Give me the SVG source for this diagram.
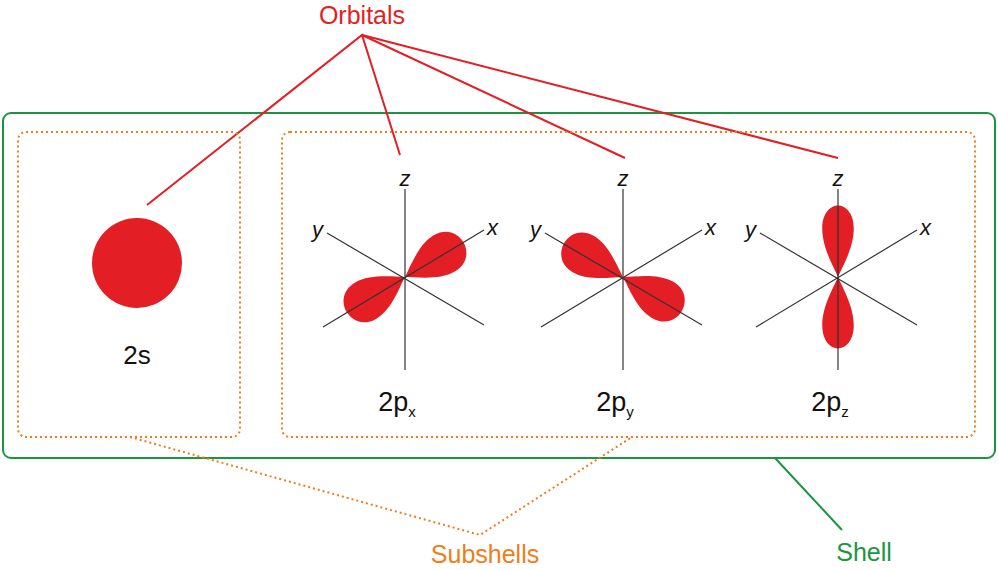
<svg xmlns="http://www.w3.org/2000/svg" width="998" height="570" viewBox="0 0 998 570">
<style>
.ax{stroke:#333;stroke-width:1.2;fill:none}
.lb{fill:#e31e24}
.t{font-family:"Liberation Sans",Arial,sans-serif;fill:#111}
.ai{font-family:"Liberation Sans",Arial,sans-serif;font-style:italic;font-size:22px;fill:#111}
.red{stroke:#e31e24;stroke-width:2;fill:none}
.or{stroke:#ef7d1a;stroke-width:2;stroke-dasharray:2 3;fill:none}
</style>
<defs>
<path id="lobe" d="M0 0 C10 -6 28 -21 46 -21 C61 -21 68 -10 68 0 C68 10 61 21 46 21 C28 21 10 6 0 0Z"/>
<g id="axes">
<line class="ax" x1="0" y1="-88" x2="0" y2="93"/>
<line class="ax" x1="-82" y1="50" x2="79" y2="-47"/>
<line class="ax" x1="-78" y1="-44" x2="79" y2="48"/>
</g>
</defs>
<rect x="3" y="113" width="992" height="345" rx="8" fill="none" stroke="#1a9641" stroke-width="2"/>
<g id="connectors">
<polyline class="red" points="147,205 362,35 400,155"/>
<line class="red" x1="362" y1="35" x2="625" y2="158"/>
<line class="red" x1="362" y1="35" x2="838" y2="158"/>
<polyline class="or" points="130,437 480,535 632,437"/>
<line x1="775" y1="458" x2="842" y2="530" stroke="#1a9641" stroke-width="2"/>
</g>
<rect class="or" x="18" y="132" width="222" height="305" rx="8"/>
<rect class="or" x="282" y="132" width="693" height="305" rx="8"/>
<g id="s2">
<circle cx="137" cy="263" r="45" class="lb"/>
<text class="t" x="137" y="364" font-size="26" text-anchor="middle">2s</text>
</g>
<g id="px" transform="translate(405,277)">
<use href="#lobe" class="lb" transform="rotate(-31)"/>
<use href="#lobe" class="lb" transform="rotate(149)"/>
<use href="#axes"/>
<text class="ai" x="0" y="-91" text-anchor="middle">z</text>
<text class="ai" x="-93" y="-40">y</text>
<text class="ai" x="82" y="-42">x</text>
<text class="t" x="-8" y="134" font-size="27" text-anchor="middle">2p<tspan font-size="15" dy="6">x</tspan></text>
</g>
<g id="py" transform="translate(623,277)">
<use href="#lobe" class="lb" transform="rotate(-150)"/>
<use href="#lobe" class="lb" transform="rotate(30)"/>
<use href="#axes"/>
<text class="ai" x="0" y="-91" text-anchor="middle">z</text>
<text class="ai" x="-93" y="-40">y</text>
<text class="ai" x="82" y="-42">x</text>
<text class="t" x="-8" y="134" font-size="27" text-anchor="middle">2p<tspan font-size="15" dy="6">y</tspan></text>
</g>
<g id="pz" transform="translate(838,277)">
<use href="#lobe" class="lb" transform="rotate(-90) scale(1.05,0.75)"/>
<use href="#lobe" class="lb" transform="rotate(90) scale(1.05,0.75)"/>
<use href="#axes"/>
<text class="ai" x="0" y="-91" text-anchor="middle">z</text>
<text class="ai" x="-93" y="-40">y</text>
<text class="ai" x="82" y="-42">x</text>
<text class="t" x="-8" y="134" font-size="27" text-anchor="middle">2p<tspan font-size="15" dy="6">z</tspan></text>
</g>
<text x="362" y="24" font-size="25" text-anchor="middle" font-family="Liberation Sans,Arial,sans-serif" fill="#e31e24">Orbitals</text>
<text x="485" y="563" font-size="25" text-anchor="middle" font-family="Liberation Sans,Arial,sans-serif" fill="#ef7d1a">Subshells</text>
<text x="864" y="561" font-size="25" text-anchor="middle" font-family="Liberation Sans,Arial,sans-serif" fill="#1a9641">Shell</text>
</svg>
